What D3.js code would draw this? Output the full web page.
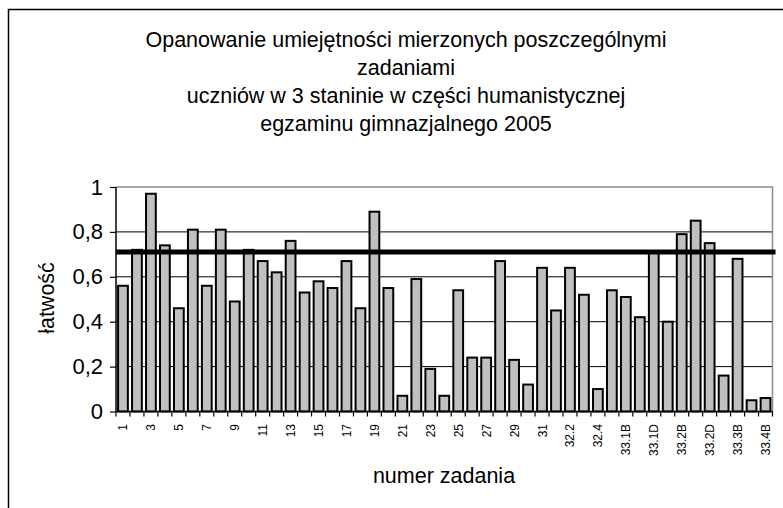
<!DOCTYPE html>
<html><head><meta charset="utf-8">
<script src="https://cdn.jsdelivr.net/npm/d3@7"></script>
<style>body{margin:0;background:#fff}svg{display:block;font-family:"Liberation Sans",Arial,sans-serif}</style>
</head><body>
<script>
const categories = ["1","2","3","4","5","6","7","8","9","10","11","12","13","14","15","16","17","18","19","20","21","22","23","24","25","26","27","28","29","30","31","32.1","32.2","32.3","32.4","33.1A","33.1B","33.1C","33.1D","33.2A","33.2B","33.2C","33.2D","33.3A","33.3B","33.4A","33.4B"];
const values = [0.56,0.72,0.97,0.74,0.46,0.81,0.56,0.81,0.49,0.72,0.67,0.62,0.76,0.53,0.58,0.55,0.67,0.46,0.89,0.55,0.07,0.59,0.19,0.07,0.54,0.24,0.24,0.67,0.23,0.12,0.64,0.45,0.64,0.52,0.10,0.54,0.51,0.42,0.71,0.40,0.79,0.85,0.75,0.16,0.68,0.05,0.06];
const threshold = 0.71;
const yTicks = [0,0.2,0.4,0.6,0.8,1];
const titleLines = ["Opanowanie umiejętności mierzonych poszczególnymi","zadaniami","uczniów w 3 staninie w części humanistycznej","egzaminu gimnazjalnego 2005"];

const W=783,H=508;
const svg=d3.select("body").append("svg").attr("width",W).attr("height",H);
// outer frame
svg.append("path").attr("d",`M8.5,${H+2}V9.5H${W+2}`).attr("fill","none").attr("stroke","#000").attr("stroke-width",1.5);

const L=116,R=772.5,T=187,B=411.5;
const x=d3.scaleBand().domain(categories).range([L,R]).paddingInner(0.3).paddingOuter(0.15);
const y=d3.scaleLinear().domain([0,1]).range([B,T]);

// gridlines
svg.append("g").selectAll("line").data(yTicks.filter(d=>d>0&&d<1)).join("line")
 .attr("x1",L).attr("x2",R).attr("y1",d=>y(d)).attr("y2",d=>y(d)).attr("stroke","#000").attr("stroke-width",1);
// plot border top/right gray
svg.append("path").attr("d",`M${L},${T}H${R}V${B}`).attr("fill","none").attr("stroke","#8c8c8c").attr("stroke-width",1.5);

// bars
svg.append("g").selectAll("rect").data(values).join("rect")
 .attr("x",(d,i)=>x(categories[i])).attr("width",x.bandwidth())
 .attr("y",d=>y(d)).attr("height",d=>B-y(d))
 .attr("fill","#c0c0c0").attr("stroke","#000").attr("stroke-width",2);

// threshold line
svg.append("line").attr("x1",L).attr("x2",R+3).attr("y1",y(threshold)).attr("y2",y(threshold)).attr("stroke","#000").attr("stroke-width",5);

// y axis
const yAxis=d3.axisLeft(y).tickValues(yTicks).tickSize(6).tickPadding(7).tickFormat(d=>d3.format("")(d).replace(".",","));
const ga=svg.append("g").attr("transform",`translate(${L},0)`).call(yAxis);
ga.select(".domain").attr("stroke","#000").attr("stroke-width",1.5).attr("d",`M0,${T}V${B}`);
ga.selectAll(".tick line").attr("stroke","#000").attr("stroke-width",1.2);
ga.selectAll("text").attr("font-size",22).attr("fill","#000").attr("font-family","Liberation Sans, Arial, sans-serif");

// x axis
const step=x.step();
svg.append("line").attr("x1",L).attr("x2",R).attr("y1",B).attr("y2",B).attr("stroke","#000").attr("stroke-width",1.5);
const bounds=categories.map((c,i)=>x(c)-x.paddingInner()*step/2).concat([R]);
svg.append("g").selectAll("line").data(bounds).join("line")
 .attr("x1",d=>d).attr("x2",d=>d).attr("y1",B).attr("y2",B+5).attr("stroke","#000").attr("stroke-width",1.2);
svg.append("g").selectAll("text").data(categories.filter((c,i)=>i%2===0)).join("text")
 .attr("transform",d=>`translate(${x(d)+x.bandwidth()/2+4.5},${B+12.5}) rotate(-90)`)
 .attr("text-anchor","end").attr("font-size",12).attr("fill","#000").text(d=>d);

// titles
svg.append("g").selectAll("text").data(titleLines).join("text")
 .attr("x",406).attr("y",(d,i)=>47+i*28).attr("text-anchor","middle").attr("font-size",21.5).attr("fill","#000").text(d=>d);
svg.append("text").attr("x",444).attr("y",483).attr("text-anchor","middle").attr("font-size",21.5).text("numer zadania");
svg.append("text").attr("transform","translate(54,298) rotate(-90)").attr("text-anchor","middle").attr("font-size",21.5).text("łatwość");
</script>
</body></html>
